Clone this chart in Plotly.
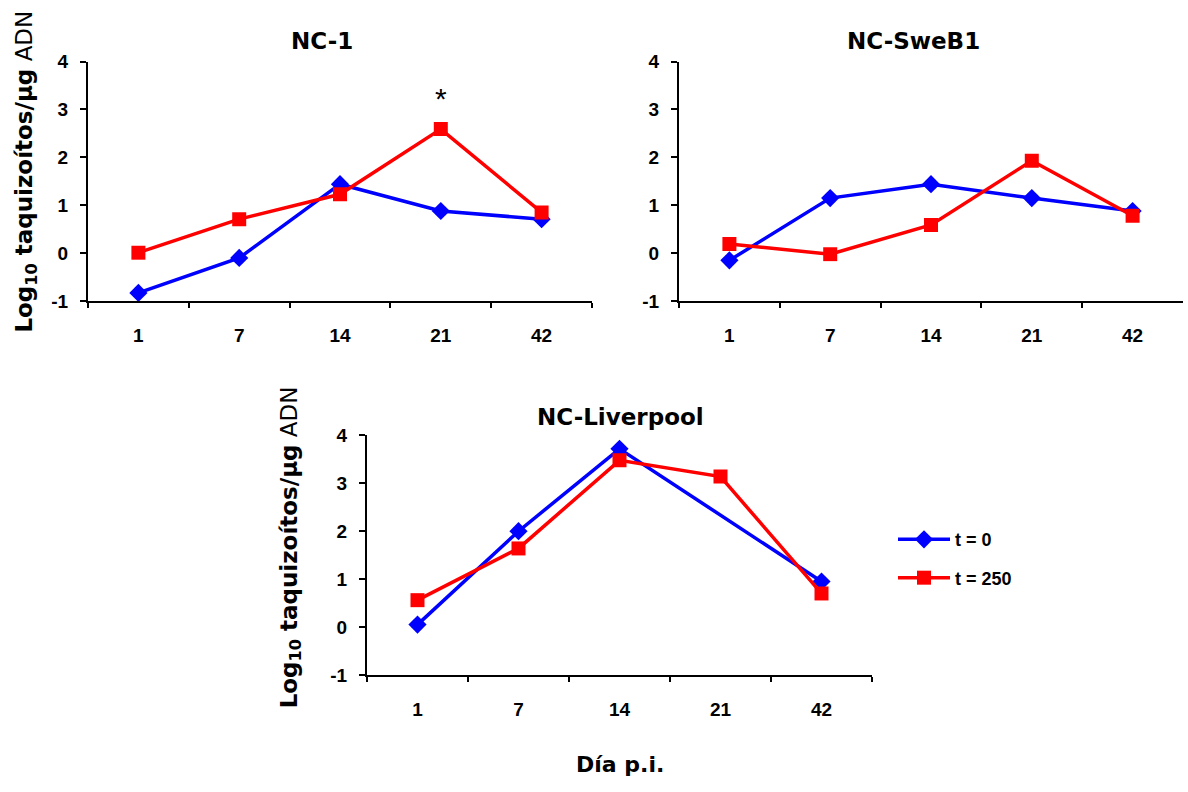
import plotly.graph_objects as go

# ---- data ----
days = ["1", "7", "14", "21", "42"]

nc1_t0 = [-0.83, -0.10, 1.44, 0.88, 0.71]
nc1_t250 = [0.01, 0.71, 1.23, 2.59, 0.85]

swe_t0 = [-0.15, 1.15, 1.44, 1.15, 0.88]
swe_t250 = [0.19, -0.02, 0.59, 1.93, 0.78]

liv_t0 = [0.05, 2.00, 3.72, None, 0.95]
liv_t250 = [0.56, 1.64, 3.48, 3.14, 0.70]

panel_titles = ["NC-1", "NC-SweB1", "NC-Liverpool"]
series_names = ["t = 0", "t = 250"]
y_ticks = [-1, 0, 1, 2, 3, 4]
y_ticktext = ["-1", "0", "1", "2", "3", "4"]

BLUE = "#0000FF"
RED = "#FF0000"
FONT = "Liberation Sans, Arial, sans-serif"
TFONT = "DejaVu Sans, sans-serif"

W, H = 1188, 792

fig = go.Figure()

panels = [
    (nc1_t0, nc1_t250, "x", "y"),
    (swe_t0, swe_t250, "x2", "y2"),
    (liv_t0, liv_t250, "x3", "y3"),
]

for i, (a, b, xa, ya) in enumerate(panels):
    fig.add_trace(go.Scatter(
        x=days, y=a, xaxis=xa, yaxis=ya, name=series_names[0],
        mode="lines+markers", connectgaps=True,
        line=dict(color=BLUE, width=3.5),
        marker=dict(symbol="diamond", size=14, color=BLUE),
        legendgroup="g0", showlegend=(i == 2),
    ))
    fig.add_trace(go.Scatter(
        x=days, y=b, xaxis=xa, yaxis=ya, name=series_names[1],
        mode="lines+markers", connectgaps=True,
        line=dict(color=RED, width=3.5),
        marker=dict(symbol="square", size=14, color=RED),
        legendgroup="g1", showlegend=(i == 2),
    ))

def px_x(p):
    return p / W

def px_y(p):
    return 1 - p / H

domains = [
    ([px_x(88), px_x(592)], [px_y(299), px_y(53)]),
    ([px_x(679), px_x(1183)], [px_y(299), px_y(53)]),
    ([px_x(367), px_x(872)], [px_y(683), px_y(437)]),
]

axis_common = dict(
    showline=True, linecolor="black", linewidth=2, mirror=False,
    showgrid=False, zeroline=False, ticks="outside", tickcolor="black",
    tickwidth=2, tickfont=dict(family=FONT, size=19, color="black", weight="bold"),
)

for i, (dx, dy) in enumerate(domains):
    sfx = "" if i == 0 else str(i + 1)
    fig.layout["xaxis" + sfx] = dict(
        axis_common, domain=dx, anchor="y" + sfx, type="category",
        categoryorder="array", categoryarray=days,
        range=[-0.5, 4.5], tickson="boundaries", ticklen=5,
        ticklabelstandoff=16,
    )
    fig.layout["yaxis" + sfx] = dict(
        axis_common, domain=dy, anchor="x" + sfx, range=[-1, 4],
        tickvals=y_ticks, ticktext=y_ticktext, ticklen=6, ticklabelstandoff=8,
    )

annotations = []
# panel titles
title_pos = [(322, 32), (913, 32), (620, 418)]
for t, (tx, ty) in zip(panel_titles, title_pos):
    annotations.append(dict(
        text="<b>%s</b>" % t, x=px_x(tx), y=px_y(ty), xref="paper", yref="paper",
        showarrow=False, font=dict(family=TFONT, size=23, color="black"),
        xanchor="center", yanchor="middle",
    ))

ytitle = "<b>Log<sub>10</sub> taquizoítos/µg</b> ADN"
for (tx, ty) in [(26, 166), (291, 552)]:
    annotations.append(dict(
        text=ytitle, x=px_x(tx), y=px_y(ty), xref="paper", yref="paper",
        showarrow=False, textangle=-90, font=dict(family=TFONT, size=23, color="black"),
        xanchor="center", yanchor="middle",
    ))

annotations.append(dict(
    text="<b>Día p.i.</b>", x=px_x(620), y=px_y(775), xref="paper", yref="paper",
    showarrow=False, font=dict(family=TFONT, size=22, color="black"),
    xanchor="center", yanchor="middle",
))

# significance asterisk above day 21 of NC-1
annotations.append(dict(
    text="*", x=3, y=3.22, xref="x", yref="y", showarrow=False,
    font=dict(family=FONT, size=30, color="black"), xanchor="center", yanchor="middle",
))

fig.update_layout(
    width=W, height=H, margin=dict(l=0, r=0, t=0, b=0),
    paper_bgcolor="white", plot_bgcolor="white",
    annotations=annotations,
    legend=dict(
        x=px_x(893), y=px_y(525), xanchor="left", yanchor="top",
        font=dict(family=FONT, size=18, color="black", weight="bold"),
        traceorder="grouped", tracegroupgap=12, bgcolor="rgba(0,0,0,0)",
        itemwidth=52,
    ),
)

fig.write_html("out.html")
